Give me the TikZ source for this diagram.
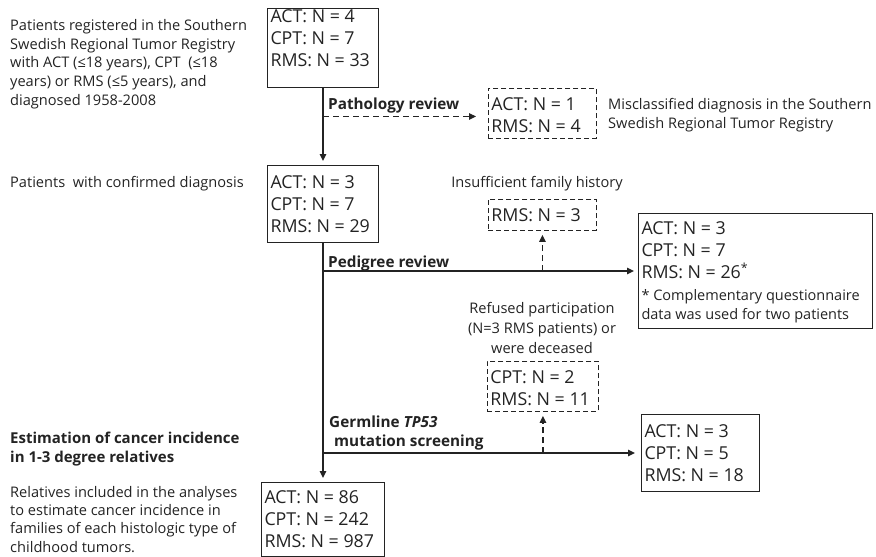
\documentclass[tikz,border=0pt]{standalone}
\usepackage{fontspec}
\setmainfont{Open Sans}
\usetikzlibrary{arrows.meta}
\definecolor{ink}{RGB}{35,35,35}
\newcommand\bxt[4]{\parbox[c][#2][t]{#1}{\vspace*{#3}#4}}
\begin{document}
\begin{tikzpicture}[x=1pt,y=-1pt,
  every node/.style={text=ink},
  desc/.style={font=\fontsize{14.6}{18.75}\selectfont, align=left, anchor=north west, inner sep=0pt},
  box/.style={draw=ink, line width=1pt, anchor=north west, inner xsep=3pt, inner ysep=0pt, font=\fontsize{17.8}{22}\selectfont},
  dbox/.style={box, dash pattern=on 5pt off 3pt, line width=0.9pt},
  flow/.style={draw=ink, line width=1.3pt, -{Triangle[length=7pt,width=6.5pt]}},
  dflow/.style={flow, dash pattern=on 6pt off 4pt},
  lbl/.style={font=\bfseries\fontsize{15.3}{19}\selectfont, align=left, anchor=north west, inner sep=0pt}]
\useasboundingbox (0,0) rectangle (876,557);

% boxes
\node[box] (b1) at (267,8) {\bxt{105pt}{79pt}{0.7pt}{ACT: N = 4\\CPT: N = 7\\RMS: N = 33}};
\node[box] (b2) at (267,165) {\bxt{105pt}{77pt}{10.6pt}{ACT: N = 3\\CPT: N = 7\\RMS: N = 29}};
\node[box] (b3) at (261,482) {\bxt{117pt}{74pt}{8.6pt}{ACT: N = 86\\CPT: N = 242\\RMS: N = 987}};
\node[box] (r1) at (638,213) {\bxt{228pt}{115pt}{8.6pt}{ACT: N = 3\\CPT: N = 7\\RMS: N = 26\textsuperscript{*}\par\vspace{2.8pt}{\fontsize{14.5}{19}\selectfont * Complementary questionnaire\\data was used for two patients\par}}};
\node[box] (r2) at (641,414) {\bxt{112pt}{77pt}{9.9pt}{ACT: N = 3\\CPT: N = 5\\RMS: N = 18}};
\node[dbox] (d1) at (488,88) {\bxt{102pt}{50pt}{8.9pt}{ACT: N = 1\\RMS: N = 4}};
\node[dbox] (d2) at (488,199) {\bxt{102pt}{31pt}{9.1pt}{RMS: N = 3}};
\node[dbox] (d3) at (487,361) {\bxt{105pt}{50pt}{9.3pt}{CPT: N = 2\\RMS: N = 11}};

% texts
\node[desc] (t1) at (10,19.1) {Patients registered in the Southern\\Swedish Regional Tumor Registry\\with ACT (≤18 years), CPT~ (≤18\\years) or RMS (≤5 years), and\\diagnosed 1958-2008};
\node[desc] (t2) at (10,176.1) {Patients~ with confirmed diagnosis};
\node[desc, font=\bfseries\fontsize{15}{19}\selectfont] (t3) at (10,432) {Estimation of cancer incidence\\in 1-3 degree relatives};
\node[desc, font=\fontsize{14.6}{18.3}\selectfont] (t4) at (10,486.1) {Relatives included in the analyses\\to estimate cancer incidence in\\families of each histologic type of\\childhood tumors.};
\node[desc, font=\fontsize{14.6}{19}\selectfont] (t5) at (608,98.1) {Misclassified diagnosis in the Southern\\Swedish Regional Tumor Registry};
\node[desc, anchor=north] (t6) at (537,176.1) {Insufficient family history};
\node[desc, anchor=north, align=center, font=\fontsize{14.6}{20}\selectfont] (t7) at (542,302.1) {Refused participation\\(N=3 RMS patients) or\\were deceased};

% labels
\node[lbl] (l1) at (328,97.8) {Pathology review};
\node[lbl] (l2) at (328,255.8) {Pedigree review};
\node[lbl] (l3) at (329,415.8) {Germline \textit{TP53}\\\hspace*{5pt}mutation screening};

% connectors
\coordinate (pj) at ([yshift=-3pt]d1.west);
\draw[flow, shorten >=4pt] (b1.south) -- (b2.north);
\draw[dflow, shorten >=12pt] (b1.south |- pj) -- (pj);
\draw[flow, shorten >=4pt] (b2.south) -- (b3.north);
\draw[flow, shorten >=4pt] (b2.south |- r1.west) -- (r1.west);
\draw[dflow, shorten >=4pt] (d2.south |- r1.west) -- (d2.south);
\draw[flow, shorten >=6pt] (b2.south |- r2.west) -- (r2.west);
\draw[dflow, shorten >=4pt] (d3.south |- r2.west) -- (d3.south);
\end{tikzpicture}
\end{document}
